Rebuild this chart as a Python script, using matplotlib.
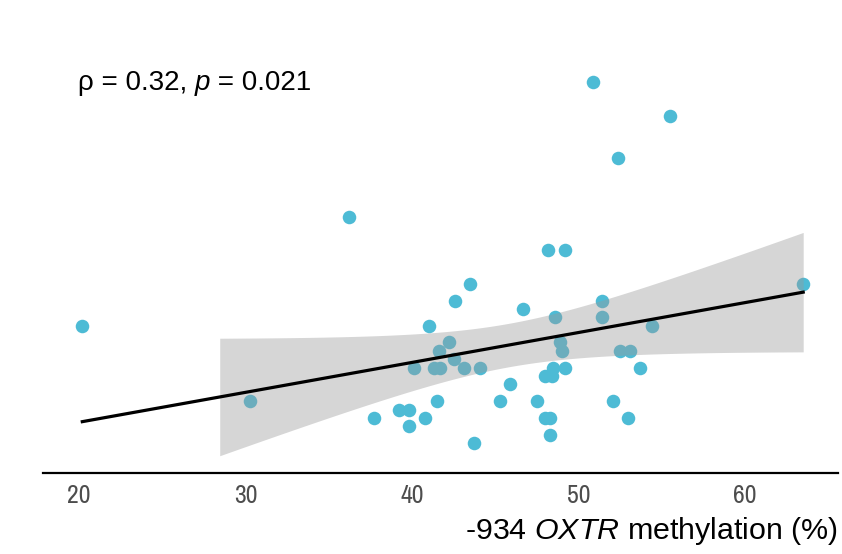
import numpy as np
import matplotlib
matplotlib.use("Agg")
import matplotlib.pyplot as plt

# -934 OXTR methylation (%) and the outcome score (y axis hidden in the original)
methylation = [20.2, 30.3, 36.2, 37.7, 39.2, 39.8, 39.8, 40.1, 40.8, 41.0,
               41.3, 41.7, 41.5, 41.6, 42.2, 42.5, 42.6, 43.1, 43.5, 43.7,
               44.1, 45.3, 45.9, 46.7, 47.5, 48.0, 48.4, 48.0, 48.3, 48.3,
               48.2, 49.2, 48.5, 48.6, 48.9, 49.0, 49.2, 50.9, 52.4, 51.4,
               51.4, 52.1, 52.5, 53.1, 53.0, 53.7, 54.4, 55.5, 63.5]
score = [16, 7, 29, 5, 6, 6, 4, 11, 5, 16,
         11, 11, 7, 13, 14, 12, 19, 11, 21, 2,
         11, 7, 9, 18, 7, 10, 10, 5, 5, 3,
         25, 25, 11, 17, 14, 13, 11, 45, 36, 19,
         17, 7, 13, 13, 5, 11, 16, 41, 21]
x_ticks = [20, 30, 40, 50, 60]
annotation = ("\u03c1 = 0.32, ", "p", " = 0.021")
y_floor = 0.5   # lower scale limit; ribbon is dropped below it

plt.rcParams["mathtext.fontset"] = "custom"
plt.rcParams["mathtext.rm"] = "Liberation Sans"
plt.rcParams["mathtext.it"] = "Liberation Sans:italic"

x = np.array(methylation)
y = np.array(score)

fig = plt.figure(figsize=(8.42, 5.54), dpi=100)
ax = fig.add_axes([43 / 842, 81 / 554, 795 / 842, 410 / 554])

ax.scatter(x, y, s=95, color="#4DBBD5", linewidths=0, zorder=2)

# linear fit with 95% confidence band (like geom_smooth(method = "lm"))
n = len(x)
slope, intercept = np.polyfit(x, y, 1)
grid = np.linspace(x.min(), x.max(), 300)
fit = intercept + slope * grid
resid = y - (intercept + slope * x)
s_err = np.sqrt(np.sum(resid ** 2) / (n - 2))
se = s_err * np.sqrt(1 / n + (grid - x.mean()) ** 2 / np.sum((x - x.mean()) ** 2))
t_crit = 2.012
lower = fit - t_crit * se
upper = fit + t_crit * se
keep = lower >= y_floor
ax.fill_between(grid[keep], lower[keep], upper[keep], color="#999999",
                alpha=0.4, linewidth=0, zorder=3)
ax.plot(grid, fit, color="black", linewidth=2.3, zorder=4)

# correlation annotation, italic p
txt = ax.text(19.94, 44.05, annotation[0], fontsize=20, va="baseline", ha="left",
              family="Liberation Sans")
txt2 = ax.annotate(annotation[1], xy=(1, 0), xycoords=txt, va="bottom",
                   fontsize=20, style="italic", family="Liberation Sans")
ax.annotate(annotation[2], xy=(1, 0), xycoords=txt2, va="bottom",
            fontsize=20, family="Liberation Sans")

ax.set_xlabel(r"-934 $\mathit{OXTR}$ methylation (%)", fontsize=21.9,
              family="Liberation Sans", ha="right", va="baseline")
ax.xaxis.set_label_coords(1.0, -0.161)

ax.set_xlim(17.84, 65.59)
ax.set_ylim(-1.55, 47.3)
ax.set_xticks(x_ticks)
ax.tick_params(axis="x", length=0, pad=8, labelsize=18.5, labelcolor="#4D4D4D")
for lab in ax.get_xticklabels():
    lab.set_family("Archivo Narrow")
ax.set_yticks([])
for side in ["top", "right", "left"]:
    ax.spines[side].set_visible(False)
ax.spines["bottom"].set_linewidth(1.6)

fig.savefig("out.png", dpi=100)
